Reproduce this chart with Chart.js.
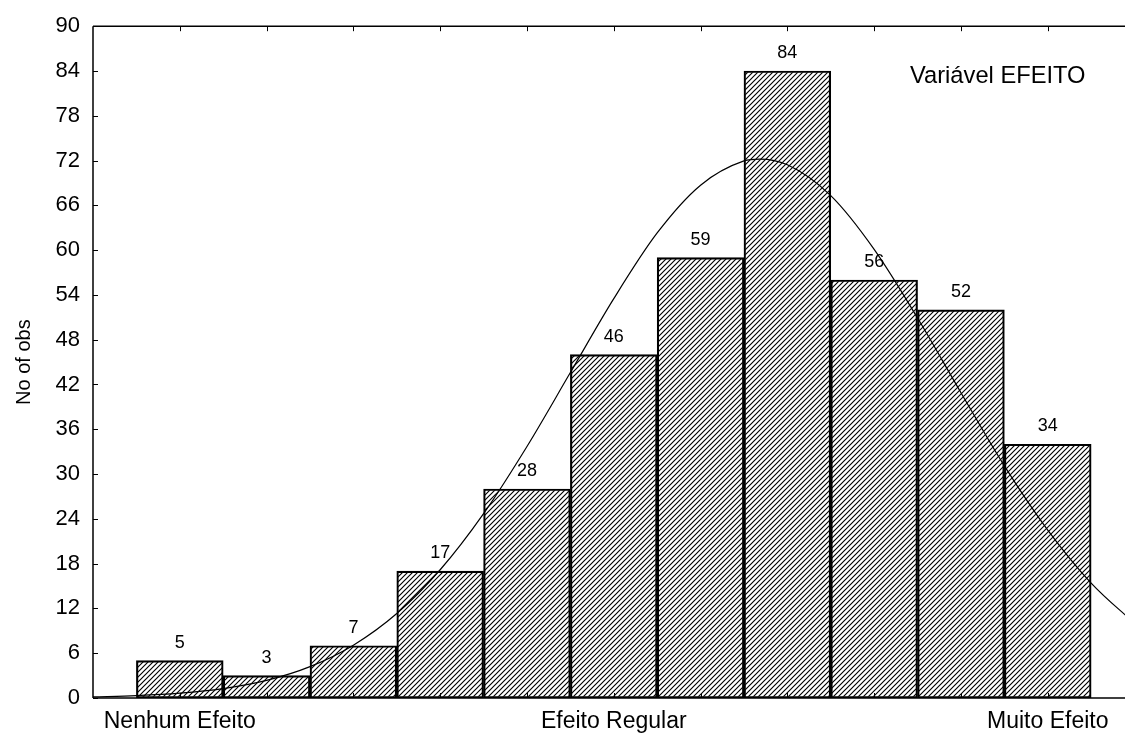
<!DOCTYPE html>
<html><head><meta charset="utf-8">
<script src="https://cdn.jsdelivr.net/npm/chart.js@4.4.1/dist/chart.umd.min.js"></script>
<style>html,body{margin:0;padding:0;background:#fff;overflow:hidden}canvas{display:block}</style>
</head><body>
<canvas id="c" width="1125" height="734"></canvas>
<script>
// ---- data ----
const categories = [1, 2, 3, 4, 5, 6, 7, 8, 9, 10, 11];
const counts = [5, 3, 7, 17, 28, 46, 59, 84, 56, 52, 34];
const axisLabels = {1: 'Nenhum Efeito', 6: 'Efeito Regular', 11: 'Muito Efeito'};
const yTicks = [0, 6, 12, 18, 24, 30, 36, 42, 48, 54, 60, 66, 72, 78, 84, 90];
const curveX = [0, 0.5, 1, 1.5, 2, 2.5, 3, 3.5, 4, 4.5, 5, 5.5, 6, 6.5, 7, 7.5, 7.68, 8, 8.5, 9, 9.5, 10, 10.5, 11, 11.5, 12];
const curveY = [0.14, 0.31, 0.64, 1.26, 2.36, 4.2, 7.08, 11.32, 17.18, 24.7, 33.7, 43.6, 53.5, 62.3, 68.7, 71.95, 72.2, 71.43, 67.3, 60.1, 50.9, 40.9, 31.1, 22.5, 15.4, 10.0];
const yTitle = 'No of obs';
const annotation = 'Variável EFEITO';

const FONT = '"Liberation Sans", Arial, sans-serif';

// hatch pattern
function makeHatch() {
  const s = 5;
  const c = document.createElement('canvas');
  c.width = s; c.height = s;
  const g = c.getContext('2d');
  g.strokeStyle = '#000';
  g.lineWidth = 1.15;
  g.beginPath();
  g.moveTo(-1, s + 1); g.lineTo(s + 1, -1);
  g.moveTo(-1, 1); g.lineTo(1, -1);
  g.moveTo(s - 1, s + 1); g.lineTo(s + 1, s - 1);
  g.stroke();
  return g.createPattern(c, 'repeat');
}
const ctx0 = document.getElementById('c').getContext('2d');
const hatch = makeHatch();

const framePlugin = {
  id: 'frame',
  afterDraw(chart) {
    const {ctx, chartArea: a, scales: {x, y}} = chart;
    ctx.save();
    ctx.strokeStyle = '#000';
    ctx.lineWidth = 1.5;
    ctx.beginPath();
    ctx.moveTo(a.left, a.top); ctx.lineTo(a.right, a.top);
    ctx.moveTo(a.left, a.top); ctx.lineTo(a.left, a.bottom);
    ctx.moveTo(a.left, a.bottom); ctx.lineTo(a.right, a.bottom);
    ctx.stroke();
    ctx.lineWidth = 1;
    ctx.beginPath();
    x.ticks.forEach(t => {
      const px = Math.round(x.getPixelForValue(t.value)) + 0.5;
      ctx.moveTo(px, a.bottom); ctx.lineTo(px, a.bottom - 5);
      ctx.moveTo(px, a.top); ctx.lineTo(px, a.top + 5);
    });
    y.ticks.forEach(t => {
      const py = Math.round(y.getPixelForValue(t.value)) + 0.5;
      ctx.moveTo(a.left, py); ctx.lineTo(a.left + 5, py);
    });
    ctx.stroke();
    const meta = chart.getDatasetMeta(1);
    ctx.fillStyle = '#000';
    ctx.font = '18px ' + FONT;
    ctx.textAlign = 'center';
    ctx.textBaseline = 'alphabetic';
    meta.data.forEach((bar, i) => {
      ctx.fillText(String(counts[i]), bar.x, bar.y - 13);
    });
    ctx.font = '23.7px ' + FONT;
    ctx.textAlign = 'left';
    ctx.fillText(annotation, a.right - 215, a.top + 57);
    ctx.restore();
  }
};

new Chart(ctx0, {
  type: 'bar',
  data: {
    datasets: [
      {
        type: 'line',
        data: curveX.map((v, i) => ({x: v, y: curveY[i]})),
        borderColor: '#000',
        borderWidth: 1.2,
        pointRadius: 0,
        fill: false,
        cubicInterpolationMode: 'monotone',
        order: 0
      },
      {
        type: 'bar',
        data: categories.map((c, i) => ({x: c, y: counts[i]})),
        backgroundColor: hatch,
        borderColor: '#000',
        borderWidth: 1.5,
        borderSkipped: false,
        barPercentage: 1,
        categoryPercentage: 1,
        grouped: false,
        order: 1
      }
    ]
  },
  options: {
    responsive: false,
    animation: false,
    devicePixelRatio: 1,
    layout: {padding: {top: 26, right: 0, bottom: 0, left: 0}},
    plugins: {legend: {display: false}, tooltip: {enabled: false}},
    scales: {
      x: {
        type: 'linear', min: 0, max: 11.89, offset: false,
        grid: {display: false, drawTicks: false, offset: false},
        border: {display: false},
        afterBuildTicks: s => { s.ticks = categories.map(v => ({value: v})); },
        afterFit: s => { s.height = 36; },
        ticks: {
          autoSkip: false, maxRotation: 0, padding: 10, color: '#000',
          font: {family: FONT, size: 23},
          callback: v => axisLabels[v] || ''
        }
      },
      y: {
        min: 0, max: 90,
        grid: {display: false, drawTicks: false},
        border: {display: false},
        afterBuildTicks: s => { s.ticks = yTicks.map(v => ({value: v})); },
        afterFit: s => { s.width = 93; },
        ticks: {padding: 13, color: '#000', font: {family: FONT, size: 22}},
        title: {display: true, text: yTitle, color: '#000', font: {family: FONT, size: 20}, padding: {top: 12, bottom: 0}}
      }
    }
  },
  plugins: [framePlugin]
});
</script>
</body></html>
